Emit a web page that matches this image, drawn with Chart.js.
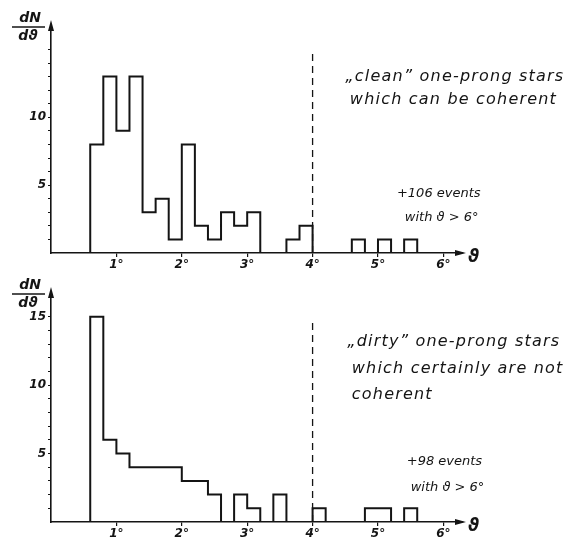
<!DOCTYPE html>
<html>
<head>
<meta charset="utf-8">
<script src="https://cdn.jsdelivr.net/npm/chart.js@4.4.1/dist/chart.umd.min.js"></script>
<style>
  html, body { margin: 0; padding: 0; background: #fff; }
  canvas { display: block; }
</style>
</head>
<body>
<canvas id="cleanChart" width="569" height="270"></canvas>
<canvas id="dirtyChart" width="569" height="269"></canvas>
<script>
// bin edges in degrees (0.2° bins, 0.6° .. 5.6°)
const binEdges = [0.6, 0.8, 1.0, 1.2, 1.4, 1.6, 1.8, 2.0, 2.2, 2.4, 2.6, 2.8, 3.0,
                  3.2, 3.4, 3.6, 3.8, 4.0, 4.2, 4.4, 4.6, 4.8, 5.0, 5.2, 5.4, 5.6];
// counts per bin
const cleanCounts = [8, 13, 9, 13, 3, 4, 1, 8, 2, 1, 3, 2, 3, 0, 0, 1, 2, 0, 0, 0, 1, 0, 1, 0, 1];
const dirtyCounts = [15, 6, 5, 4, 4, 4, 4, 3, 3, 2, 0, 2, 1, 0, 2, 0, 0, 1, 0, 0, 0, 1, 1, 0, 1];
const xTicks = [1, 2, 3, 4, 5, 6];
const cleanYLabels = [5, 10];
const dirtyYLabels = [5, 10, 15];
const cutAngle = 4;
const cutTop = 14.9;

const cleanNotes = [
  { text: '„clean” one-prong stars', x: 4.5, y: 13.0, size: 16, spacing: 1.2 },
  { text: 'which can be coherent', x: 4.57, y: 11.3, size: 16, spacing: 1.2 },
  { text: '+106 events', x: 5.29, y: 4.4, size: 13, spacing: 0 },
  { text: 'with ϑ > 6°', x: 5.41, y: 2.6, size: 13, spacing: 0 }
];
const dirtyNotes = [
  { text: '„dirty” one-prong stars', x: 4.53, y: 13.15, size: 16, spacing: 1.2 },
  { text: 'which certainly are not', x: 4.6, y: 11.2, size: 16, spacing: 1.2 },
  { text: 'coherent', x: 4.6, y: 9.3, size: 16, spacing: 1.2 },
  { text: '+98 events', x: 5.44, y: 4.4, size: 13, spacing: 0 },
  { text: 'with ϑ > 6°', x: 5.5, y: 2.5, size: 13, spacing: 0 }
];

const INK = '#141414';

// histogram outline as stepped line points
function steps(counts) {
  const pts = [{ x: binEdges[0], y: 0 }];
  counts.forEach((c, i) => pts.push({ x: binEdges[i], y: c }));
  pts.push({ x: binEdges[binEdges.length - 1], y: 0 });
  return pts;
}

// arrows, axis symbols and the handwritten notes
const decor = {
  id: 'decor',
  afterDraw(chart, args, opts) {
    const { ctx, chartArea: a, scales: { x, y } } = chart;
    ctx.save();
    ctx.fillStyle = INK;
    ctx.strokeStyle = INK;
    // arrow heads
    ctx.beginPath();
    ctx.moveTo(a.left, a.top - 5);
    ctx.lineTo(a.left - 3, a.top + 6);
    ctx.lineTo(a.left + 3, a.top + 6);
    ctx.closePath();
    ctx.fill();
    ctx.beginPath();
    ctx.moveTo(a.right + 3, a.bottom);
    ctx.lineTo(a.right - 8, a.bottom - 3);
    ctx.lineTo(a.right - 8, a.bottom + 3);
    ctx.closePath();
    ctx.fill();
    // theta at end of x axis
    ctx.font = 'italic bold 17px "DejaVu Sans"';
    ctx.textBaseline = 'middle';
    ctx.textAlign = 'left';
    ctx.fillText('ϑ', a.right + 5, a.bottom + 5);
    // dN / dϑ
    ctx.textAlign = 'center';
    ctx.font = 'italic bold 14px "DejaVu Sans"';
    ctx.fillText('dN', 30, a.top - 7);
    ctx.fillText('dϑ', 28, a.top + 11);
    ctx.lineWidth = 1.5;
    ctx.beginPath();
    ctx.moveTo(12, a.top + 2);
    ctx.lineTo(45, a.top + 2);
    ctx.stroke();
    // notes
    ctx.textAlign = 'left';
    opts.notes.forEach(n => {
      ctx.font = 'italic ' + n.size + 'px "DejaVu Sans"';
      ctx.letterSpacing = n.spacing + 'px';
      ctx.fillText(n.text, x.getPixelForValue(n.x), y.getPixelForValue(n.y));
    });
    ctx.letterSpacing = '0px';
    ctx.restore();
  }
};

function makeChart(id, counts, yLabels, notes, topPad) {
  const tickFont = { family: 'DejaVu Sans', style: 'italic', weight: 'bold', size: 12 };
  return new Chart(document.getElementById(id), {
    type: 'line',
    data: {
      datasets: [{
        data: steps(counts),
        stepped: 'before',
        borderColor: INK,
        borderWidth: 2,
        pointRadius: 0,
        fill: false
      }, {
        data: [{ x: cutAngle, y: 0 }, { x: cutAngle, y: cutTop }],
        borderColor: INK,
        borderWidth: 1.3,
        borderDash: [7, 5],
        pointRadius: 0,
        fill: false
      }]
    },
    options: {
      responsive: false,
      animation: false,
      devicePixelRatio: 1,
      layout: { padding: { top: topPad, right: 106, left: 0, bottom: 0 } },
      plugins: {
        legend: { display: false },
        tooltip: { enabled: false },
        decor: { notes: notes }
      },
      scales: {
        x: {
          type: 'linear',
          min: 0,
          max: 6.3,
          afterFit: s => { s.height = 17; },
          afterBuildTicks: s => { s.ticks = xTicks.map(v => ({ value: v })); },
          ticks: {
            callback: v => v + '°',
            font: tickFont,
            color: INK,
            padding: 1,
            maxRotation: 0,
            autoSkip: false
          },
          grid: { drawOnChartArea: false, tickLength: 4, color: INK, lineWidth: 1.2 },
          border: { display: true, color: INK, width: 1.6 }
        },
        y: {
          min: 0,
          max: 16.8,
          afterFit: s => { s.width = 51; },
          afterBuildTicks: s => {
            s.ticks = s.ticks.filter(t => Number.isInteger(t.value) && t.value > 0);
          },
          ticks: {
            stepSize: 1,
            callback: v => yLabels.includes(v) ? String(v) : '',
            font: tickFont,
            color: INK,
            padding: 2,
            autoSkip: false
          },
          grid: { drawOnChartArea: false, tickLength: 3, color: INK, lineWidth: 1 },
          border: { display: true, color: INK, width: 1.6 }
        }
      }
    },
    plugins: [decor]
  });
}

makeChart('cleanChart', cleanCounts, cleanYLabels, cleanNotes, 25);
makeChart('dirtyChart', dirtyCounts, dirtyYLabels, dirtyNotes, 22);
</script>
</body>
</html>
